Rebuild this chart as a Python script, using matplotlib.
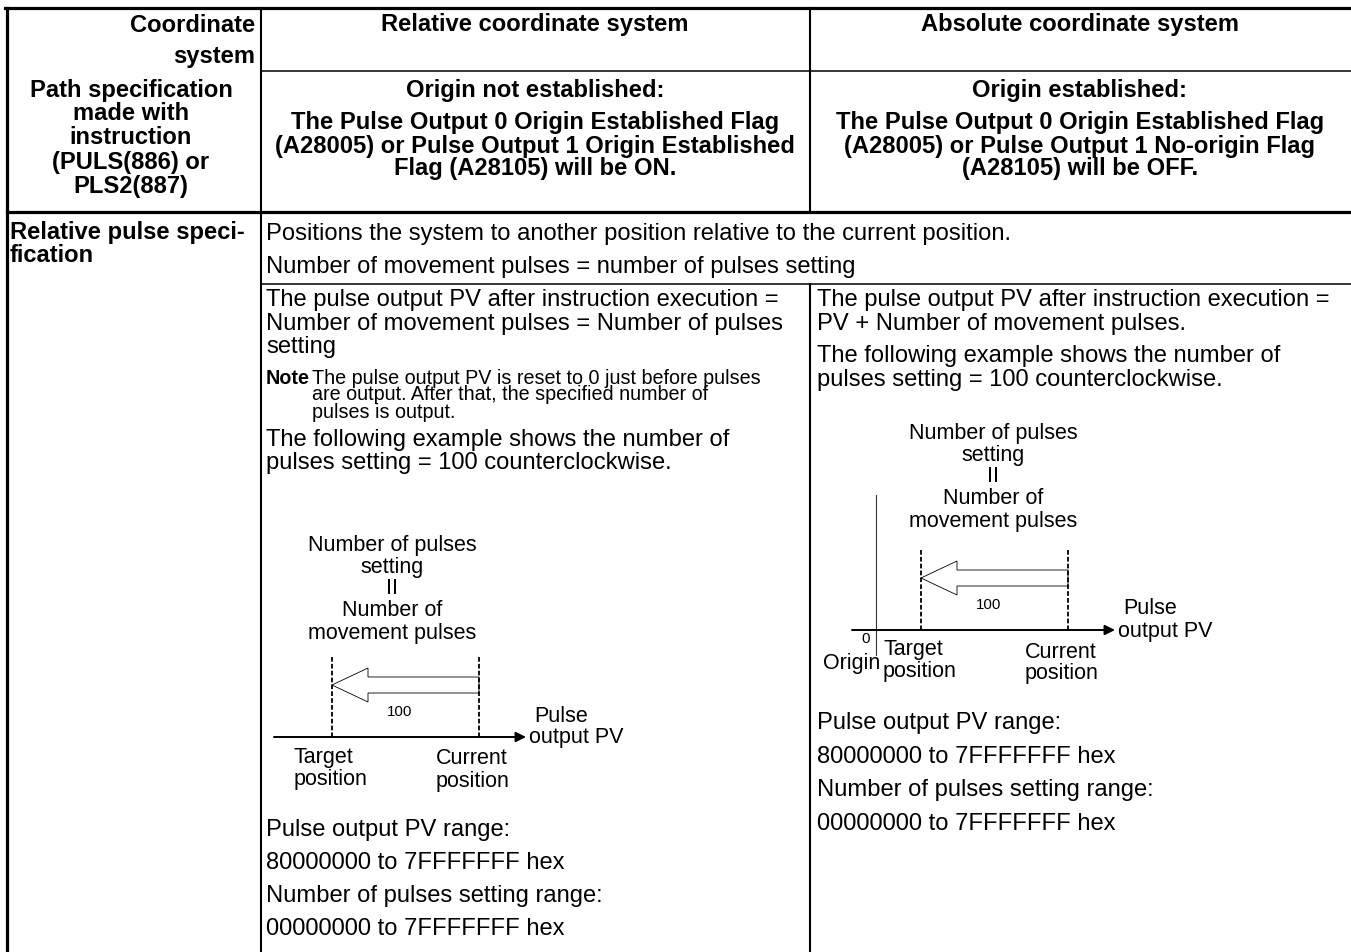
import matplotlib
matplotlib.use("Agg")
import matplotlib.pyplot as plt
from matplotlib.patches import Polygon

plt.rcParams['font.family'] = ['Liberation Sans', 'DejaVu Sans']

# --- table texts ---
corner_top = ["Coordinate", "system"]
corner_bottom = ["Path specification", "made with", "instruction", "(PULS(886) or", "PLS2(887)"]
col_heads = ["Relative coordinate system", "Absolute coordinate system"]
rel_head = ["Origin not established:",
            "The Pulse Output 0 Origin Established Flag",
            "(A28005) or Pulse Output 1 Origin Established",
            "Flag (A28105) will be ON."]
abs_head = ["Origin established:",
            "The Pulse Output 0 Origin Established Flag",
            "(A28005) or Pulse Output 1 No-origin Flag",
            "(A28105) will be OFF."]
row_label = ["Relative pulse speci-", "fication"]
common = ["Positions the system to another position relative to the current position.",
          "Number of movement pulses = number of pulses setting"]
rel_body = ["The pulse output PV after instruction execution =",
            "Number of movement pulses = Number of pulses",
            "setting"]
note_lines = ["The pulse output PV is reset to 0 just before pulses",
              "are output. After that, the specified number of",
              "pulses is output."]
example = ["The following example shows the number of",
           "pulses setting = 100 counterclockwise."]
abs_body = ["The pulse output PV after instruction execution =",
            "PV + Number of movement pulses."]
ranges = ["Pulse output PV range:", "80000000 to 7FFFFFFF hex",
          "Number of pulses setting range:", "00000000 to 7FFFFFFF hex"]
diag_label = ["Number of pulses", "setting", "II", "Number of", "movement pulses"]
pulses_setting = "100"

W, H = 1351, 952
fig = plt.figure(figsize=(W / 100, H / 100), dpi=100)
ax = fig.add_axes([0, 0, 1, 1])
ax.set_xlim(0, W)
ax.set_ylim(H, 0)
ax.axis('off')

FS = 17.1     # body text
BFS = 17.1    # bold headings
NFS = 14.2    # note
DFS = 15.5    # diagram labels
SFS = 10.8    # small numbers in diagrams

def lines(x, ys, txts, **kw):
    for y, t in zip(ys, txts):
        ax.text(x, y, t, va='center', **kw)

# grid
c1, c2 = 261, 810
thick, thin = 2.3, 1.1
ax.plot([5, W], [8, 8], 'k', lw=thick)
ax.plot([7, 7], [8, H], 'k', lw=thick)
ax.plot([c1, c1], [8, H], 'k', lw=1.5)
ax.plot([c1, W], [71, 71], 'k', lw=thin)
ax.plot([c2, c2], [8, 212], 'k', lw=1.5)
ax.plot([c2, c2], [284, H], 'k', lw=1.5)
ax.plot([7, W], [212, 212], 'k', lw=thick)
ax.plot([c1, W], [284, 284], 'k', lw=thin)

# header
bold = dict(fontsize=BFS, fontweight='bold')
lines(255, [25, 57], corner_top, ha='right', **bold)
lines(131, [90, 114, 138, 162, 186], corner_bottom, ha='center', **bold)
lines(535, [25], col_heads[:1], ha='center', **bold)
lines(1080, [25], col_heads[1:], ha='center', **bold)
lines(535, [90, 122, 146, 169], rel_head, ha='center', **bold)
lines(1080, [90, 122, 146, 169], abs_head, ha='center', **bold)

# row
lines(10, [233, 256], row_label, ha='left', **bold)
lines(266, [234, 267], common, ha='left', fontsize=FS)

# left body
lx = 266
lines(lx, [300, 324, 347], rel_body, ha='left', fontsize=FS)
ax.text(lx, 378, "Note", va='center', ha='left', fontsize=NFS, fontweight='bold')
lines(lx + 46, [378, 395, 412], note_lines, ha='left', fontsize=NFS)
lines(lx, [440, 463], example, ha='left', fontsize=FS)
lines(lx, [830, 863, 896, 929], ranges, ha='left', fontsize=FS)

# right body
rx = 817
lines(rx, [300, 324], abs_body, ha='left', fontsize=FS)
lines(rx, [356, 380], example, ha='left', fontsize=FS)
lines(rx, [723, 757, 790, 824], ranges, ha='left', fontsize=FS)


def diagram(x_t, x_c, y_ax, x0, x1, label_cx, label_top, origin=None):
    lines(label_cx, [label_top + 22 * i for i in range(5)], diag_label,
          ha='center', fontsize=DFS)
    # dashed position lines
    for xx in (x_t, x_c):
        ax.plot([xx, xx], [y_ax - 80, y_ax], color='k', lw=1.3, ls=(0, (2.6, 1.2)))
    # hollow arrow current -> target
    yc = y_ax - 52
    hb = x_t + 36
    pts = [(x_c, yc - 8), (hb, yc - 8), (hb, yc - 17), (x_t, yc),
           (hb, yc + 17), (hb, yc + 8), (x_c, yc + 8)]
    ax.add_patch(Polygon(pts, closed=True, fc='white', ec='k', lw=0.6))
    ax.text(x_t + 68, y_ax - 25, pulses_setting, ha='center', va='center', fontsize=SFS)
    # axis
    ax.annotate('', xy=(x1, y_ax), xytext=(x0, y_ax),
                arrowprops=dict(arrowstyle='-|>', color='k', lw=1.4,
                                mutation_scale=15, shrinkA=0, shrinkB=0))
    ax.text(x1 + 8, y_ax - 21, "Pulse", ha='left', va='center', fontsize=DFS)
    ax.text(x1 + 3, y_ax + 1, "output PV", ha='left', va='center', fontsize=DFS)
    ax.text(x_t - 38, y_ax + 20, "Target", ha='left', va='center', fontsize=DFS)
    ax.text(x_t - 38, y_ax + 42, "position", ha='left', va='center', fontsize=DFS)
    ax.text(x_c - 43, y_ax + 22, "Current", ha='left', va='center', fontsize=DFS)
    ax.text(x_c - 43, y_ax + 44, "position", ha='left', va='center', fontsize=DFS)
    if origin is not None:
        ax.plot([origin, origin], [y_ax - 135, y_ax + 25], color='#333333', lw=0.8)
        ax.text(origin - 10, y_ax + 9, "0", ha='center', va='center', fontsize=SFS)
        ax.text(origin + 4, y_ax + 34, "Origin", ha='right', va='center', fontsize=DFS)


diagram(332, 479, 737, 274, 526, 392, 545)
diagram(921, 1068, 630, 852, 1115, 993, 433, origin=876)

fig.savefig("out.png", dpi=100)
